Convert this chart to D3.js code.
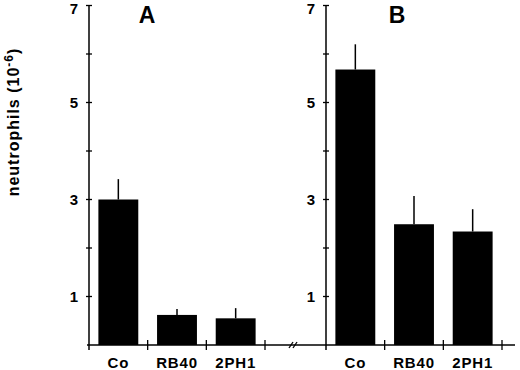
<!DOCTYPE html>
<html>
<head>
<meta charset="utf-8">
<script src="https://cdn.jsdelivr.net/npm/d3@7"></script>
<style>
  body { margin: 0; background: #fff; }
  text { font-family: "Liberation Sans", Arial, Helvetica, sans-serif; font-weight: bold; fill: #000; }
</style>
</head>
<body>
<script>
// data
const categories = ["Co", "RB40", "2PH1"];
const panelA = [3.0, 0.62, 0.55];
const panelAErr = [3.42, 0.74, 0.76];   // top of the error bar
const panelB = [5.68, 2.49, 2.34];
const panelBErr = [6.2, 3.07, 2.8];
const yTicks = [1, 2, 3, 4, 5, 6, 7];
const yLabels = [1, 3, 5, 7];

const width = 520, height = 370;
const svg = d3.select("body").append("svg")
    .attr("width", width)
    .attr("height", height);

const y = d3.scaleLinear().domain([0, 7]).range([345, 5.5]);
const base = y(0);

// x axis line running under both panels, with the break mark
svg.append("line")
    .attr("x1", 87).attr("x2", 515)
    .attr("y1", base).attr("y2", base)
    .attr("stroke", "#000").attr("stroke-width", 1.5);

const brk = 293;
[-2, 2].forEach(o => {
    svg.append("line")
        .attr("x1", brk + o - 2).attr("y1", base + 3)
        .attr("x2", brk + o + 2).attr("y2", base - 3)
        .attr("stroke", "#000").attr("stroke-width", 1.3);
});

function panel(x0, x1, vals, errs, letter, letterX) {
    const x = d3.scaleBand()
        .domain(categories)
        .range([x0, x1])
        .paddingInner(0.32)
        .paddingOuter(0.16);

    const g = svg.append("g");

    // y axis
    g.append("line")
        .attr("x1", x0).attr("x2", x0)
        .attr("y1", y(7)).attr("y2", base + 5)
        .attr("stroke", "#000").attr("stroke-width", 1.5);
    g.selectAll(".ytick")
        .data(yTicks)
        .enter().append("line")
        .attr("x1", x0 - 3).attr("x2", x0 + 3)
        .attr("y1", d => y(d)).attr("y2", d => y(d))
        .attr("stroke", "#000").attr("stroke-width", 1.3);
    g.selectAll(".ylab")
        .data(yLabels)
        .enter().append("text")
        .attr("x", x0 - 11)
        .attr("y", d => Math.max(y(d), 9))
        .attr("dy", "0.36em")
        .attr("text-anchor", "end")
        .style("font-size", "15px")
        .text(d => d);

    // x ticks at band boundaries
    const xt = d3.range(categories.length + 1).map(i => x0 + i * x.step());
    g.selectAll(".xtick")
        .data(xt.slice(1))
        .enter().append("line")
        .attr("x1", d => d).attr("x2", d => d)
        .attr("y1", base - 5).attr("y2", base + 5)
        .attr("stroke", "#000").attr("stroke-width", 1.3);

    // bars
    g.selectAll(".bar")
        .data(vals)
        .enter().append("rect")
        .attr("x", (d, i) => x(categories[i]))
        .attr("y", d => y(d))
        .attr("width", x.bandwidth())
        .attr("height", d => base - y(d))
        .attr("fill", "#000");

    // error bars (upper half only)
    g.selectAll(".err")
        .data(errs)
        .enter().append("line")
        .attr("x1", (d, i) => x(categories[i]) + x.bandwidth() / 2)
        .attr("x2", (d, i) => x(categories[i]) + x.bandwidth() / 2)
        .attr("y1", (d, i) => y(vals[i]))
        .attr("y2", d => y(d))
        .attr("stroke", "#000").attr("stroke-width", 1.5);

    // category labels
    g.selectAll(".xlab")
        .data(categories)
        .enter().append("text")
        .attr("x", d => x(d) + x.bandwidth() / 2)
        .attr("y", 368)
        .attr("text-anchor", "middle")
        .style("font-size", "15px")
        .style("letter-spacing", "0.8px")
        .text(d => d);

    g.append("text")
        .attr("x", letterX)
        .attr("y", 23)
        .attr("text-anchor", "middle")
        .style("font-size", "23px")
        .text(letter);
}

panel(89, 265, panelA, panelAErr, "A", 147);
panel(326, 502, panelB, panelBErr, "B", 397);

// y axis title
const title = svg.append("text")
    .attr("transform", "translate(19,122) rotate(-90)")
    .attr("text-anchor", "middle")
    .style("font-size", "16px")
    .style("letter-spacing", "1px");
title.append("tspan").text("neutrophils (10");
title.append("tspan").attr("dy", "-6").style("font-size", "12px").text("-6");
title.append("tspan").attr("dy", "6").text(")");
</script>
</body>
</html>
